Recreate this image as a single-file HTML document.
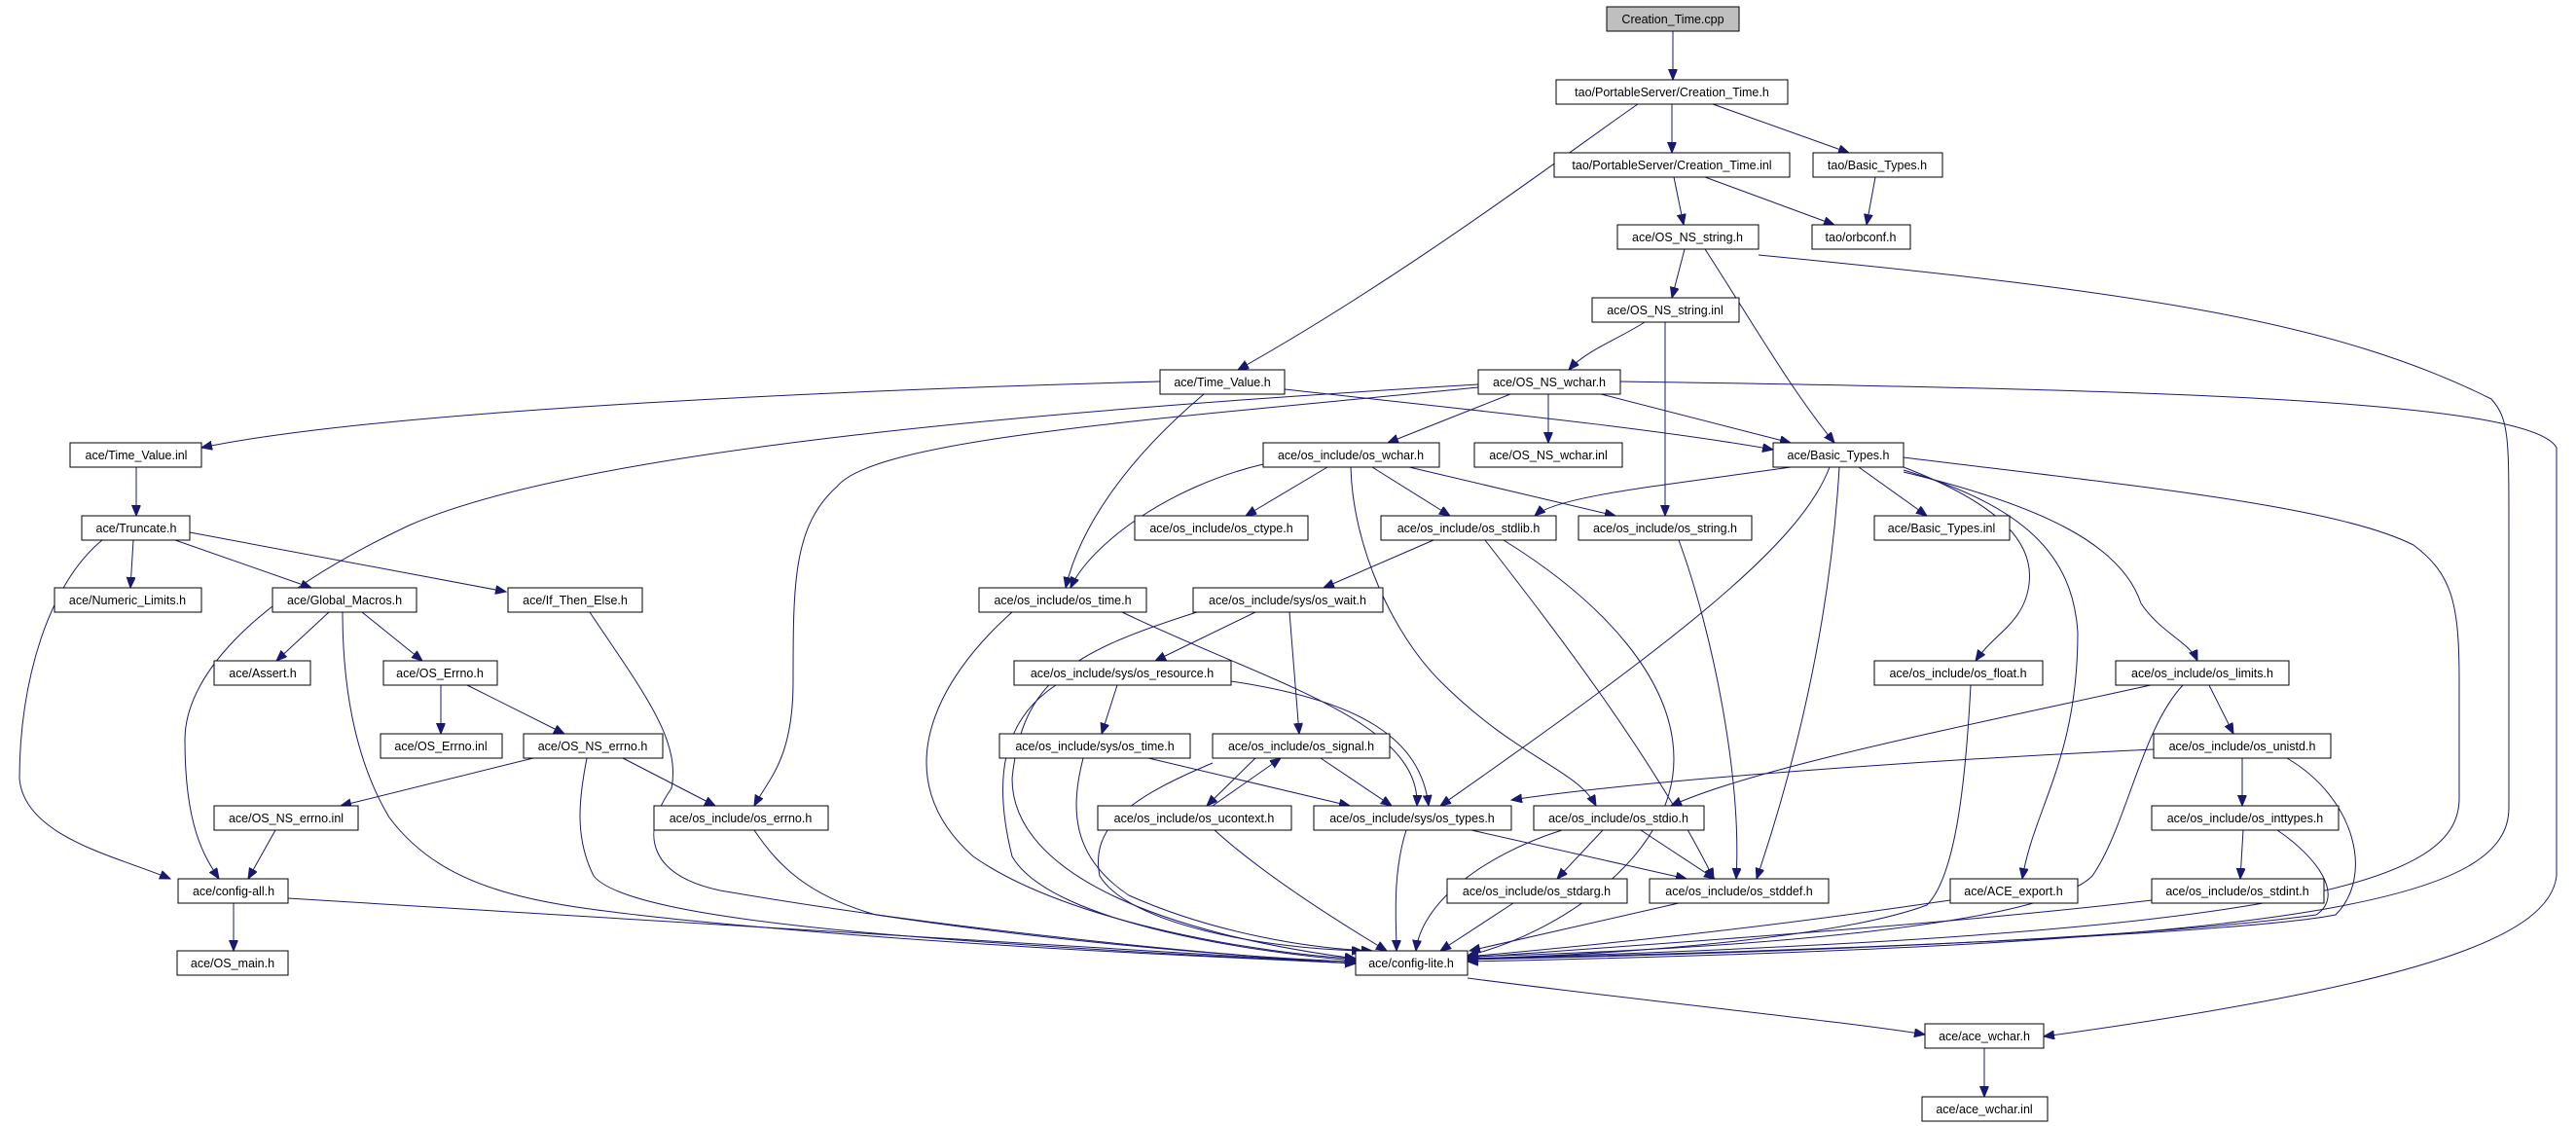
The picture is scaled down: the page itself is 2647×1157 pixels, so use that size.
<!DOCTYPE html>
<html><head><meta charset="utf-8"><style>
html,body{margin:0;padding:0;background:#fff;}
svg{display:block}
text{font-family:"Liberation Sans",sans-serif;font-size:12.5px;fill:#000;text-anchor:middle;dominant-baseline:central}
.n{fill:#fff;stroke:#000;stroke-width:1}
.e{fill:none;stroke:#191970;stroke-width:1}
</style></head><body>
<svg width="2647" height="1157" viewBox="0 0 2647 1157" xmlns="http://www.w3.org/2000/svg">
<defs><marker id="a" markerUnits="userSpaceOnUse" markerWidth="12" markerHeight="10" refX="11" refY="4.5" orient="auto"><path d="M0,0 L11,4.5 L0,9 z" fill="#191970" stroke="#191970"/></marker></defs>
<g class="e" marker-end="url(#a)">
<path d="M1719 32 L1719 82"/>
<path d="M1718 107 L1718 157"/>
<path d="M1760 107 L1900 157"/>
<path d="M1683 107 C1620 150 1450 280 1272 380"/>
<path d="M1720 182 L1730 231"/>
<path d="M1752 182 L1885 231"/>
<path d="M1927 182 L1918 231"/>
<path d="M1731 256 L1718 306"/>
<path d="M1752 256 C1800 330 1840 400 1885 455"/>
<path d="M1807 262 C2200 300 2400 330 2560 410 C2578 430 2578 450 2578 540 L2578 830 C2578 920 2400 970 1508 988"/>
<path d="M1690 331 C1660 350 1630 360 1612 380"/>
<path d="M1711 331 L1711 530"/>
<path d="M1192 392 C900 400 400 420 207 460"/>
<path d="M1320 400 C1500 420 1700 440 1822 462"/>
<path d="M1237 405 C1160 470 1110 540 1095 604"/>
<path d="M1552 405 L1426 455"/>
<path d="M1591 405 L1591 455"/>
<path d="M1645 405 L1840 455"/>
<path d="M1519 395 C1100 420 600 460 420 540 C250 620 190 700 190 760 C190 850 210 880 225 903"/>
<path d="M105 555 C50 600 20 700 20 800 C25 860 120 880 175 903"/>
<path d="M1519 398 C1200 430 900 450 860 500 C815 540 815 600 815 700 C815 780 790 800 775 828"/>
<path d="M1298 477 C1200 500 1120 560 1100 604"/>
<path d="M1364 480 L1280 530"/>
<path d="M1410 480 L1490 530"/>
<path d="M1448 480 L1660 530"/>
<path d="M1388 480 C1390 560 1430 650 1480 700 C1560 780 1620 790 1640 828"/>
<path d="M1840 480 C1700 500 1600 510 1577 530"/>
<path d="M1910 480 L1980 530"/>
<path d="M1880 480 C1850 560 1720 660 1480 828"/>
<path d="M1890 480 C1880 650 1840 800 1805 903"/>
<path d="M1956 480 C2060 520 2090 560 2085 600 C2080 640 2050 650 2030 679"/>
<path d="M1956 483 C2080 520 2130 570 2135 650 C2135 780 2090 830 2078 903"/>
<path d="M1956 485 C2100 520 2180 560 2200 620 C2220 650 2250 660 2258 679"/>
<path d="M1956 470 C2200 500 2400 520 2480 560 C2520 590 2527 620 2527 700 L2527 820 C2527 900 2400 960 1508 985"/>
<path d="M1665 392 C2200 400 2600 410 2627 460 L2627 900 C2620 960 2500 1010 2100 1065"/>
<path d="M1508 1005 C1700 1030 1900 1050 1978 1063"/>
<path d="M2039 1077 L2039 1127"/>
<path d="M140 480 L140 530"/>
<path d="M137 555 L134 604"/>
<path d="M180 555 L320 604"/>
<path d="M195 547 L520 608"/>
<path d="M338 629 L284 679"/>
<path d="M372 629 L434 679"/>
<path d="M352 629 C352 720 370 790 400 840 C460 920 560 930 700 945 C1000 975 1300 985 1393 990"/>
<path d="M606 629 C660 710 700 760 690 810 C655 860 670 900 740 915 C1000 960 1300 985 1393 990"/>
<path d="M453 704 L453 754"/>
<path d="M480 704 L580 754"/>
<path d="M548 779 L350 828"/>
<path d="M640 779 L735 828"/>
<path d="M603 779 C595 820 590 860 610 900 C650 950 1000 970 1393 990"/>
<path d="M283 853 L255 903"/>
<path d="M240 928 L240 977"/>
<path d="M296 923 C700 950 1100 975 1393 990"/>
<path d="M775 853 C800 890 830 920 900 940 C1100 970 1300 985 1393 988"/>
<path d="M1153 629 C1300 700 1460 740 1456 828"/>
<path d="M1040 629 C960 700 910 800 1000 880 C1100 950 1300 980 1393 985"/>
<path d="M1473 555 L1360 604"/>
<path d="M1526 555 C1600 650 1700 780 1761 903"/>
<path d="M1545 555 C1650 620 1720 700 1720 780 C1720 880 1600 960 1508 982"/>
<path d="M1725 555 C1760 650 1790 800 1784 903"/>
<path d="M1290 629 L1187 679"/>
<path d="M1325 629 L1335 754"/>
<path d="M1230 629 C1100 670 1050 700 1040 800 C1040 900 1200 960 1393 985"/>
<path d="M1148 704 L1132 754"/>
<path d="M1265 700 C1400 720 1460 760 1468 828"/>
<path d="M1085 704 C1030 740 1020 800 1040 880 C1080 950 1300 980 1393 987"/>
<path d="M1180 779 L1387 828"/>
<path d="M1113 779 C1100 830 1100 880 1160 920 C1250 960 1350 975 1410 977"/>
<path d="M1290 779 L1240 828"/>
<path d="M1246 828 L1316 779"/>
<path d="M1357 779 L1430 828"/>
<path d="M1246 784 C1160 820 1120 850 1130 900 C1160 950 1300 975 1400 977"/>
<path d="M1248 853 C1300 900 1380 950 1425 977"/>
<path d="M1512 853 L1733 903"/>
<path d="M1445 853 C1430 900 1435 950 1435 977"/>
<path d="M1647 853 L1600 903"/>
<path d="M1686 853 L1762 903"/>
<path d="M1605 853 C1520 880 1460 930 1455 977"/>
<path d="M1555 928 L1480 977"/>
<path d="M1725 928 L1510 977"/>
<path d="M2025 704 C2020 800 2010 900 1980 930 C1900 960 1700 980 1508 985"/>
<path d="M2270 704 L2295 754"/>
<path d="M2210 704 C2000 750 1800 790 1717 828"/>
<path d="M2243 704 C2200 750 2185 850 2150 900 C2100 950 1800 975 1508 983"/>
<path d="M2213 770 C2000 780 1700 800 1553 822"/>
<path d="M2304 779 L2304 828"/>
<path d="M2350 779 C2420 820 2440 900 2400 940 C2300 960 1800 980 1508 985"/>
<path d="M2305 853 L2302 903"/>
<path d="M2340 853 C2380 880 2410 920 2380 940 C2200 965 1800 980 1508 986"/>
<path d="M2211 925 C2000 950 1700 970 1508 984"/>
<path d="M2004 925 C1800 955 1650 970 1508 983"/>
</g>
<g>
<rect x="1651" y="7" width="136" height="25" fill="#bfbfbf" stroke="#000"/><text x="1719" y="20">Creation_Time.cpp</text>
<rect class="n" x="1599" y="82" width="238" height="25"/><text x="1718" y="95">tao/PortableServer/Creation_Time.h</text>
<rect class="n" x="1597" y="157" width="242" height="25"/><text x="1718" y="170">tao/PortableServer/Creation_Time.inl</text>
<rect class="n" x="1863" y="157" width="133" height="25"/><text x="1929" y="170">tao/Basic_Types.h</text>
<rect class="n" x="1662" y="231" width="145" height="25"/><text x="1734" y="244">ace/OS_NS_string.h</text>
<rect class="n" x="1862" y="231" width="101" height="25"/><text x="1912" y="244">tao/orbconf.h</text>
<rect class="n" x="1636" y="306" width="151" height="25"/><text x="1711" y="319">ace/OS_NS_string.inl</text>
<rect class="n" x="1192" y="380" width="128" height="25"/><text x="1256" y="393">ace/Time_Value.h</text>
<rect class="n" x="1519" y="380" width="146" height="25"/><text x="1592" y="393">ace/OS_NS_wchar.h</text>
<rect class="n" x="72" y="455" width="135" height="25"/><text x="140" y="468">ace/Time_Value.inl</text>
<rect class="n" x="1298" y="455" width="181" height="25"/><text x="1388" y="468">ace/os_include/os_wchar.h</text>
<rect class="n" x="1515" y="455" width="152" height="25"/><text x="1591" y="468">ace/OS_NS_wchar.inl</text>
<rect class="n" x="1822" y="455" width="134" height="25"/><text x="1889" y="468">ace/Basic_Types.h</text>
<rect class="n" x="84" y="530" width="111" height="25"/><text x="140" y="543">ace/Truncate.h</text>
<rect class="n" x="1166" y="530" width="178" height="25"/><text x="1255" y="543">ace/os_include/os_ctype.h</text>
<rect class="n" x="1419" y="530" width="180" height="25"/><text x="1509" y="543">ace/os_include/os_stdlib.h</text>
<rect class="n" x="1622" y="530" width="178" height="25"/><text x="1711" y="543">ace/os_include/os_string.h</text>
<rect class="n" x="1926" y="530" width="139" height="25"/><text x="1995" y="543">ace/Basic_Types.inl</text>
<rect class="n" x="56" y="604" width="151" height="25"/><text x="131" y="617">ace/Numeric_Limits.h</text>
<rect class="n" x="280" y="604" width="148" height="25"/><text x="354" y="617">ace/Global_Macros.h</text>
<rect class="n" x="522" y="604" width="138" height="25"/><text x="591" y="617">ace/If_Then_Else.h</text>
<rect class="n" x="1006" y="604" width="172" height="25"/><text x="1092" y="617">ace/os_include/os_time.h</text>
<rect class="n" x="1226" y="604" width="195" height="25"/><text x="1323" y="617">ace/os_include/sys/os_wait.h</text>
<rect class="n" x="220" y="679" width="99" height="25"/><text x="270" y="692">ace/Assert.h</text>
<rect class="n" x="394" y="679" width="117" height="25"/><text x="452" y="692">ace/OS_Errno.h</text>
<rect class="n" x="1042" y="679" width="223" height="25"/><text x="1153" y="692">ace/os_include/sys/os_resource.h</text>
<rect class="n" x="1926" y="679" width="173" height="25"/><text x="2012" y="692">ace/os_include/os_float.h</text>
<rect class="n" x="2174" y="679" width="178" height="25"/><text x="2263" y="692">ace/os_include/os_limits.h</text>
<rect class="n" x="391" y="754" width="125" height="25"/><text x="453" y="767">ace/OS_Errno.inl</text>
<rect class="n" x="538" y="754" width="143" height="25"/><text x="609" y="767">ace/OS_NS_errno.h</text>
<rect class="n" x="1027" y="754" width="196" height="25"/><text x="1125" y="767">ace/os_include/sys/os_time.h</text>
<rect class="n" x="1246" y="754" width="182" height="25"/><text x="1337" y="767">ace/os_include/os_signal.h</text>
<rect class="n" x="2213" y="754" width="182" height="25"/><text x="2304" y="767">ace/os_include/os_unistd.h</text>
<rect class="n" x="220" y="828" width="148" height="25"/><text x="294" y="841">ace/OS_NS_errno.inl</text>
<rect class="n" x="672" y="828" width="179" height="25"/><text x="761" y="841">ace/os_include/os_errno.h</text>
<rect class="n" x="1128" y="828" width="199" height="25"/><text x="1227" y="841">ace/os_include/os_ucontext.h</text>
<rect class="n" x="1350" y="828" width="203" height="25"/><text x="1451" y="841">ace/os_include/sys/os_types.h</text>
<rect class="n" x="1576" y="828" width="175" height="25"/><text x="1663" y="841">ace/os_include/os_stdio.h</text>
<rect class="n" x="2211" y="828" width="192" height="25"/><text x="2307" y="841">ace/os_include/os_inttypes.h</text>
<rect class="n" x="183" y="903" width="113" height="25"/><text x="240" y="916">ace/config-all.h</text>
<rect class="n" x="1487" y="903" width="185" height="25"/><text x="1579" y="916">ace/os_include/os_stdarg.h</text>
<rect class="n" x="1695" y="903" width="184" height="25"/><text x="1787" y="916">ace/os_include/os_stddef.h</text>
<rect class="n" x="2004" y="903" width="131" height="25"/><text x="2069" y="916">ace/ACE_export.h</text>
<rect class="n" x="2211" y="903" width="177" height="25"/><text x="2299" y="916">ace/os_include/os_stdint.h</text>
<rect class="n" x="182" y="977" width="114" height="25"/><text x="239" y="990">ace/OS_main.h</text>
<rect class="n" x="1393" y="977" width="115" height="25"/><text x="1450" y="990">ace/config-lite.h</text>
<rect class="n" x="1978" y="1052" width="122" height="25"/><text x="2039" y="1065">ace/ace_wchar.h</text>
<rect class="n" x="1975" y="1127" width="129" height="25"/><text x="2039" y="1140">ace/ace_wchar.inl</text>
</g>
</svg>
</body></html>
